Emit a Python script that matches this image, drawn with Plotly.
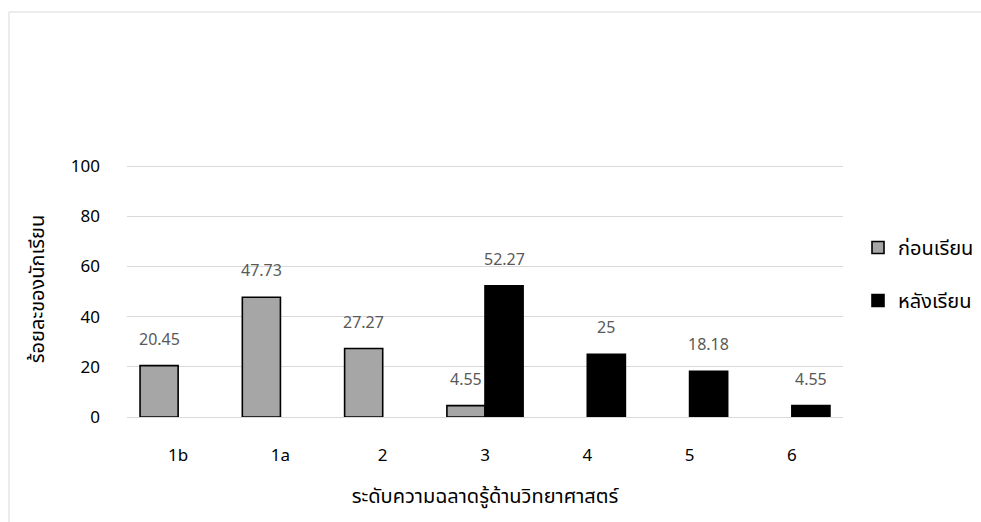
import plotly.graph_objects as go

categories = ["1b", "1a", "2", "3", "4", "5", "6"]
before_vals = [20.45, 47.73, 27.27, 4.55, None, None, None]
after_vals = [None, None, None, 52.27, 25, 18.18, 4.55]
before_name = "ก่อนเรียน"
after_name = "หลังเรียน"
y_ticks = [0, 20, 40, 60, 80, 100]

W, H = 981, 522
L, R, T, B = 127, 138, 161, 105
pw, ph = W - L - R, H - T - B

FONT = "Noto Sans Thai, Noto Sans, sans-serif"

fig = go.Figure()
fig.add_trace(go.Bar(x=categories, y=before_vals, name=before_name,
                     marker=dict(color="#a6a6a6", line=dict(color="black", width=1.6)),
                     legendgroup="a"))
fig.add_trace(go.Bar(x=categories, y=after_vals, name=after_name,
                     marker=dict(color="black", line=dict(color="black", width=1.6)),
                     legendgroup="b"))

annotations = []
for vals, shift in ((before_vals, -19), (after_vals, 19)):
    for c, v in zip(categories, vals):
        if v is None:
            continue
        annotations.append(dict(x=c, y=v, xref="x", yref="y", text=f"{v:g}",
                                showarrow=False, yanchor="bottom", xshift=shift, yshift=12,
                                font=dict(size=16, color="#595959", family=FONT)))

def px_x(p):
    return (p - L) / pw

def px_y(p):
    return (H - B - p) / ph

shapes = [
    dict(type="line", xref="paper", yref="paper", x0=px_x(9), x1=px_x(990),
         y0=px_y(12), y1=px_y(12), line=dict(color="#d9d9d9", width=1)),
    dict(type="line", xref="paper", yref="paper", x0=px_x(9), x1=px_x(9),
         y0=px_y(12), y1=px_y(530), line=dict(color="#d9d9d9", width=1)),
]

fig.update_layout(
    width=W, height=H,
    margin=dict(l=L, r=R, t=T, b=B, autoexpand=False),
    paper_bgcolor="white", plot_bgcolor="white",
    barmode="group", bargap=0.255, bargroupgap=0,
    font=dict(family=FONT, color="black", size=16),
    showlegend=True,
    legend=dict(x=px_x(858), y=px_y(228), xanchor="left", yanchor="top",
                font=dict(size=20, color="black", family=FONT),
                tracegroupgap=24, itemwidth=30, bgcolor="rgba(0,0,0,0)"),
    annotations=annotations,
    shapes=shapes,
    xaxis=dict(type="category", showgrid=False, showline=False, zeroline=False,
               ticks="", ticklabelstandoff=26, tickfont=dict(size=17, color="black"),
               title=dict(text="ระดับความฉลาดรู้ด้านวิทยาศาสตร์", standoff=20,
                          font=dict(size=20, color="black"))),
    yaxis=dict(range=[0, 102], tickvals=y_ticks, showgrid=True, gridcolor="#d9d9d9",
               gridwidth=1, zeroline=True, zerolinecolor="#d9d9d9", zerolinewidth=1,
               showline=False, ticks="", ticklabelstandoff=26,
               tickfont=dict(size=17, color="black"),
               title=dict(text="ร้อยละของนักเรียน", standoff=20,
                          font=dict(size=20, color="black"))),
)

fig.write_html("out.html")
